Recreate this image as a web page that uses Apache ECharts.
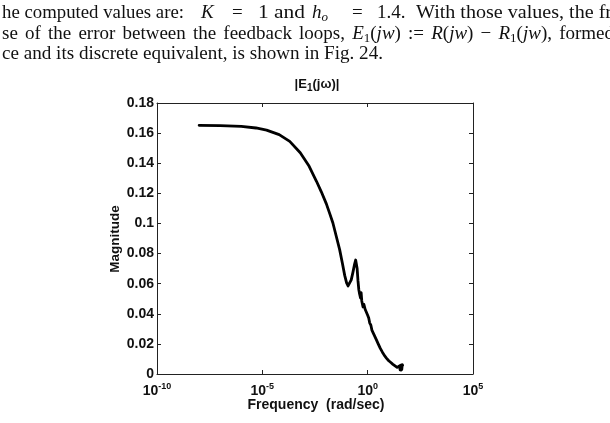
<!DOCTYPE html>
<html>
<head>
<meta charset="utf-8">
<script src="https://cdn.jsdelivr.net/npm/echarts@6/dist/echarts.min.js"></script>
<style>
html,body{margin:0;padding:0;background:#fff;}
#c{width:610px;height:423px;}
</style>
</head>
<body>
<div id="c"></div>
<script>
// log10 of frequency (rad/sec)
var logFreq = [-8.0,-7.0,-6.0,-5.3,-4.8,-4.2,-3.7,-3.2,-2.8,-2.43,-2.2,-1.96,-1.8,-1.65,-1.5,-1.33,-1.2,-1.09,-1.0,-0.93,-0.89,-0.84,-0.78,-0.70,-0.62,-0.57,-0.54,-0.50,-0.46,-0.42,-0.38,-0.34,-0.31,-0.28,-0.25,-0.22,-0.18,-0.12,-0.06,0.0,0.05,0.095,0.15,0.2,0.25,0.3,0.35,0.41,0.45,0.5,0.55,0.6,0.65,0.7,0.75,0.8,0.85,0.9,0.95,1.0,1.05,1.1,1.15,1.2,1.25,1.3,1.35,1.4,1.44,1.48,1.51,1.54,1.56,1.58,1.60,1.62,1.64,1.66];
// |E1(jw)| magnitude
var magnitude = [0.1652,0.1650,0.1645,0.1634,0.1620,0.1590,0.1545,0.1470,0.1385,0.1280,0.1210,0.1130,0.1065,0.1003,0.0920,0.0826,0.0735,0.0655,0.0605,0.0585,0.0582,0.0592,0.0625,0.0675,0.0730,0.0757,0.0755,0.0700,0.0620,0.0560,0.0530,0.0505,0.0540,0.0485,0.0472,0.0445,0.0462,0.0430,0.0425,0.0390,0.0372,0.0340,0.0325,0.0292,0.0296,0.0262,0.0256,0.0228,0.0222,0.0200,0.0192,0.0170,0.0165,0.0145,0.0140,0.0122,0.0120,0.0104,0.0102,0.0088,0.0090,0.0076,0.0080,0.0064,0.0068,0.0054,0.0060,0.0044,0.0056,0.0036,0.0054,0.0028,0.0058,0.0026,0.0060,0.0030,0.0062,0.0058];
var xTickExponents = [-10,-5,0,5];
var yTickValues = [0,0.02,0.04,0.06,0.08,0.1,0.12,0.14,0.16,0.18];

var pts = logFreq.map(function(v,i){return [v, magnitude[i]];});
var serif = '"Liberation Serif", "Times New Roman", serif';
var mctx = document.createElement('canvas').getContext('2d');
var FONTS = {n:'19px '+serif, i:'italic 19px '+serif, s:'13px '+serif, si:'italic 13px '+serif};
var RICH = {n:{fontFamily:'Liberation Serif', fontSize:19},
            i:{fontFamily:'Liberation Serif', fontStyle:'italic', fontSize:19},
            s:{fontFamily:'Liberation Serif', fontSize:13, padding:[9,0,0,0]},
            si:{fontFamily:'Liberation Serif', fontStyle:'italic', fontSize:13, padding:[9,0,0,0]}};
// a word is a list of [text, kind]
function wordWidth(w){ var t=0; w.forEach(function(p){ mctx.font = FONTS[p[1]]; t += mctx.measureText(p[0]).width; }); return t; }
function wordEl(w, x, y, sx){
  var txt = w.map(function(p){ return '{'+p[1]+'|'+p[0]+'}'; }).join('');
  return {type:'text', x:x, y:y, scaleX:sx||1, style:{x:0, y:0, text:txt, fill:'#111', verticalAlign:'middle', font:FONTS.n, rich:RICH}};
}
function justify(words, y, x0, x1){
  var sum = 0; words.forEach(function(w){ sum += wordWidth(w); });
  var gap = (x1 - x0 - sum) / (words.length - 1);
  var x = x0, out = [];
  words.forEach(function(w){ out.push(wordEl(w, x, y)); x += wordWidth(w) + gap; });
  return out;
}
function placed(items, y){
  return items.map(function(it){
    var sx = it[2] ? it[2] / wordWidth(it[0]) : 1;
    return wordEl(it[0], it[1], y, sx);
  });
}
var N = function(t){ return [[t,'n']]; };

var line1 = placed([
  [N('he computed values are:'), 2, 182],
  [[['K','i']], 201],
  [N('='), 232],
  [N('1 and'), 258, 47],
  [[['h','i'],['o','si']], 312],
  [N('='), 352],
  [N('1.4.'), 377],
  [N('With those values, the fr'), 416, 196]
], 13);
var line2 = justify([
  N('se'),N('of'),N('the'),N('error'),N('between'),N('the'),N('feedback'),N('loops,'),
  [['E','i'],['1','s'],['(','n'],['jw','i'],[')','n']],
  N(':='),
  [['R','i'],['(','n'],['jw','i'],[')','n']],
  N('−'),
  [['R','i'],['1','s'],['(','n'],['jw','i'],['),','n']],
  N('formed')
], 34, 2, 614);
var line3 = placed([[N('ce and its discrete equivalent, is shown in Fig. 24.'), 2, 381]], 54);

var chart = echarts.init(document.getElementById('c'), null, {renderer:'canvas'});
var axisLineStyle = {color:'#222', width:1};
chart.setOption({
  animation:false,
  backgroundColor:'#fff',
  grid:{left:157, top:103, right:137, bottom:49, containLabel:false},
  xAxis:[{
    type:'value', min:xTickExponents[0], max:xTickExponents[xTickExponents.length-1], interval:5, position:'bottom',
    axisLine:{show:true, onZero:false, lineStyle:axisLineStyle},
    axisTick:{show:true, inside:true, length:4, lineStyle:axisLineStyle},
    splitLine:{show:false},
    axisLabel:{margin:5, formatter:function(v){return '{b|10}{s|'+v+'}';},
      rich:{b:{fontFamily:'Liberation Sans', fontWeight:'bold', fontSize:14, color:'#111', padding:[5,0,0,0]},
            s:{fontFamily:'Liberation Sans', fontWeight:'bold', fontSize:9, color:'#111', padding:[0,0,4,0]}}}
  },{
    type:'value', min:-10, max:5, interval:5, position:'top',
    axisLine:{show:true, onZero:false, lineStyle:axisLineStyle},
    axisTick:{show:true, inside:true, length:4, lineStyle:axisLineStyle},
    axisLabel:{show:false}, splitLine:{show:false}
  }],
  yAxis:[{
    type:'value', min:yTickValues[0], max:yTickValues[yTickValues.length-1], interval:0.02, position:'left',
    axisLine:{show:true, onZero:false, lineStyle:axisLineStyle},
    axisTick:{show:true, inside:true, length:4, lineStyle:axisLineStyle},
    splitLine:{show:false},
    axisLabel:{margin:3, color:'#111', fontFamily:'Liberation Sans', fontWeight:'bold', fontSize:14,
      formatter:function(v){return String(+v.toFixed(2));}}
  },{
    type:'value', min:0, max:0.18, interval:0.02, position:'right',
    axisLine:{show:true, onZero:false, lineStyle:axisLineStyle},
    axisTick:{show:true, inside:true, length:4, lineStyle:axisLineStyle},
    axisLabel:{show:false}, splitLine:{show:false}
  }],
  series:[{
    type:'line', xAxisIndex:0, yAxisIndex:0, data:pts, showSymbol:false, smooth:false,
    lineStyle:{color:'#000', width:2.8, join:'round', cap:'round'}
  }],
  graphic:[
    {type:'text', style:{x:317, y:84, text:'|E{sub|1}(jω)|', font:'bold 13px "Liberation Sans", Arial, sans-serif', fill:'#111', align:'center', verticalAlign:'middle',
      rich:{sub:{fontFamily:'Liberation Sans', fontWeight:'bold', fontSize:10, padding:[8,0,0,0]}}}},
    {type:'text', rotation:Math.PI/2, x:115, y:239, style:{x:0, y:0, text:'Magnitude', font:'bold 13.5px "Liberation Sans", Arial, sans-serif', fill:'#111', align:'center', verticalAlign:'middle'}},
    {type:'text', style:{x:316, y:405, text:'Frequency  (rad/sec)', font:'bold 14px "Liberation Sans", Arial, sans-serif', fill:'#111', align:'center', verticalAlign:'middle'}}
  ].concat(line1, line2, line3)
});
</script>
</body>
</html>
